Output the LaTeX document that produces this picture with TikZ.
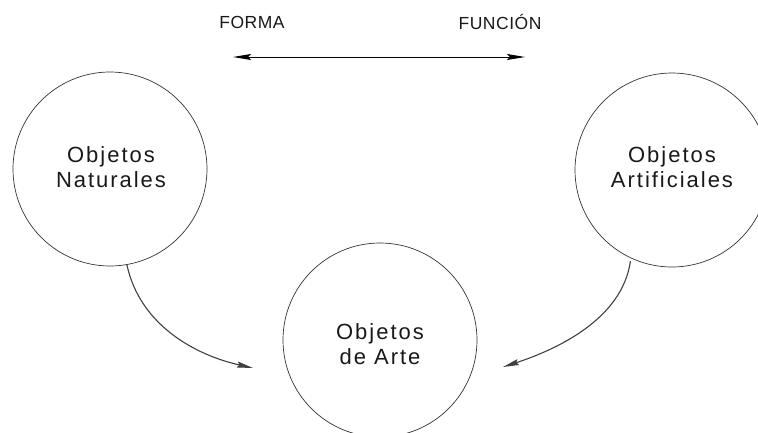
\documentclass[tikz,border=0pt]{standalone}
\usepackage{fontspec}
\setmainfont{Liberation Sans}
\newfontfamily\spacedfont[LetterSpace=9]{Liberation Sans}
\newfontfamily\topfont[LetterSpace=3]{Liberation Sans}
\usetikzlibrary{arrows.meta}
\begin{document}
\begin{tikzpicture}[x=1pt,y=-1pt,
  circ/.style={circle, draw=black!80, line width=0.7pt, minimum size=194pt, inner sep=0pt},
  lbl/.style={font=\spacedfont\fontsize{22}{25.5}\selectfont, text=black!90, align=center, inner sep=0pt},
  toplbl/.style={font=\topfont\fontsize{17.5}{20}\selectfont, text=black!90, inner sep=0pt},
  curvearrow/.style={draw=black!75, line width=1.1pt, -{Stealth[length=16pt,width=6pt,inset=2pt]}},
  toparrow/.style={draw=black, line width=1pt, {Stealth[length=18pt,width=6pt,inset=3pt]}-{Stealth[length=18pt,width=6pt,inset=3pt]}}
]
\useasboundingbox (0,0) rectangle (758,432);
\clip (0,0) rectangle (758,432);

\node[circ] (nat) at (110,169) {};
\node[circ] (art) at (672,170) {};
\node[circ] (arte) at (380,340) {};

\node[lbl] (tnat) at (111,167) {Objetos\\Naturales};
\node[lbl] (tart) at (672,167) {Objetos\\Artificiales};
\node[lbl] (tarte) at (380,344) {Objetos\\de Arte};

\node[toplbl] (forma) at (252,22) {FORMA};
\node[toplbl] (funcion) at (500,22) {FUNCIÓN};

\coordinate (aL) at (233,57);
\coordinate (aR) at (525,57);
\draw[toparrow] (aL) -- (aR);

\coordinate (tipL) at (253,368);
\coordinate (tipR) at (503,367);
\draw[curvearrow] (nat.-80) .. controls (140,325) and (195,355) .. (tipL);
\draw[curvearrow, shorten <=3pt] (art.-115) .. controls (622,320) and (555,350) .. (tipR);
\end{tikzpicture}
\end{document}
